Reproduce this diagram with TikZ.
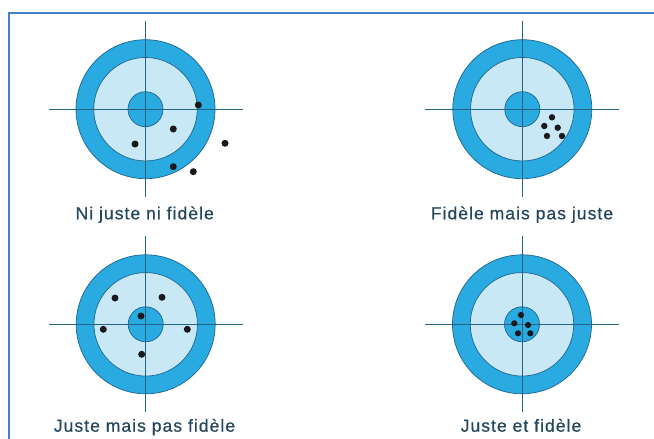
\documentclass[tikz,border=0pt]{standalone}
\usepackage{fontspec}
\newfontfamily\capfont[LetterSpace=6,FakeBold=0.6]{Liberation Sans}
\definecolor{framecol}{RGB}{74,126,199}
\definecolor{ringblue}{RGB}{41,171,226}
\definecolor{lightblue}{RGB}{200,232,246}
\definecolor{ringline}{RGB}{30,100,140}
\definecolor{crossline}{RGB}{35,100,130}
\definecolor{shotcol}{RGB}{25,25,30}
\definecolor{captioncol}{RGB}{35,70,92}
\begin{document}
\begin{tikzpicture}[x=1pt,y=-1pt,
  ring/.style={circle, draw=ringline, fill=ringblue, line width=0.7pt, minimum size=139pt, inner sep=0pt},
  light/.style={circle, draw=ringline, fill=lightblue, line width=0.7pt, minimum size=103.5pt, inner sep=0pt},
  bull/.style={circle, draw=ringline, fill=ringblue, line width=0.7pt, minimum size=35pt, inner sep=0pt},
  cross/.style={draw=crossline, line width=0.9pt},
  shot/.style={circle, fill=shotcol, minimum size=7pt, inner sep=0pt},
  caption/.style={font=\capfont\fontsize{17.5}{20}\selectfont, text=captioncol, anchor=base, inner sep=0pt},
  framing/.style={draw=framecol, line width=1.6pt}]
\useasboundingbox (0,0) rectangle (654,439);
% frame
\coordinate (fbl) at (9,440);
\coordinate (ftl) at (9,13);
\coordinate (ftr) at (655,13);
\draw[framing] (fbl) -- (ftl) -- (ftr);
% targets
\foreach \n/\cx/\cy in {a/145.5/109.2, b/522.3/109.2, c/145.7/324.3, d/522/324.3}{
  \node[ring] (\n outer) at (\cx,\cy) {};
  \node[light] (\n inner) at (\cx,\cy) {};
  \node[bull] (\n bull) at (\cx,\cy) {};
  \coordinate (\n W) at (\cx-97,\cy);
  \coordinate (\n E) at (\cx+97,\cy);
  \coordinate (\n N) at (\cx,\cy-88);
  \coordinate (\n S) at (\cx,\cy+88);
  \draw[cross] (\n W) -- (\n E);
  \draw[cross] (\n N) -- (\n S);
}
% shots: Ni juste ni fidele
\foreach \i/\x/\y in {1/198.3/105, 2/173.3/129, 3/135/144, 4/225/143.3, 5/173.3/166.7, 6/193.3/171.7}
  \node[shot] (a\i) at (\x,\y) {};
% Fidele mais pas juste
\foreach \i/\x/\y in {1/552/117.3, 2/544.3/126, 3/557.7/127.7, 4/547/136, 5/562/136}
  \node[shot, minimum size=6.4pt] (b\i) at (\x,\y) {};
% Juste mais pas fidele
\foreach \i/\x/\y in {1/115/298, 2/162/297.3, 3/141/316, 4/103.3/329.3, 5/187.3/329.3, 6/141.7/354.3}
  \node[shot] (c\i) at (\x,\y) {};
% Juste et fidele
\foreach \i/\x/\y in {1/521/315, 2/514.3/323.3, 3/528/325, 4/518/333.3, 5/530.3/333.3}
  \node[shot, minimum size=6.2pt] (d\i) at (\x,\y) {};
% captions
\node[caption] (la) at (144.7,219.3) {Ni juste ni fidèle};
\node[caption] (lb) at (522,219.3) {Fidèle mais pas juste};
\node[caption] (lc) at (144.5,431.7) {Juste mais pas fidèle};
\node[caption] (ld) at (521,431.7) {Juste et fidèle};
\end{tikzpicture}
\end{document}
